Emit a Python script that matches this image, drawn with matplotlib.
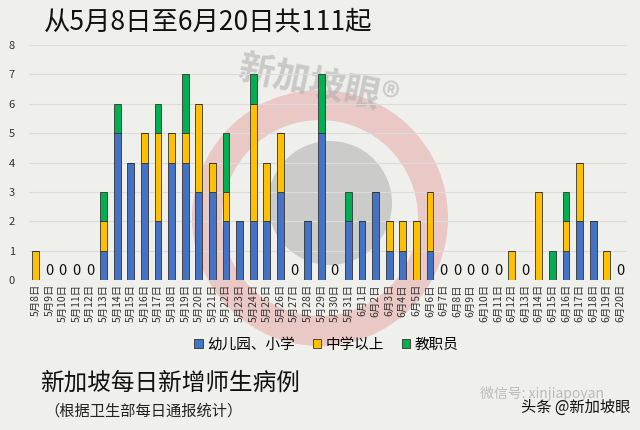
import numpy as np
import matplotlib.pyplot as plt
from matplotlib.patches import Circle, Wedge

plt.rcParams['font.family'] = ['Noto Sans CJK SC', 'DejaVu Sans']

dates = ['5月%d日' % d for d in range(8, 32)] + ['6月%d日' % d for d in range(1, 21)]
# 幼儿园、小学
kinder = [0, 0, 0, 0, 0, 1, 5, 4, 4, 2, 4, 4, 3, 3, 2, 2, 2, 2, 3, 0, 2, 5, 0, 2,
          2, 3, 1, 1, 0, 1, 0, 0, 0, 0, 0, 0, 0, 0, 0, 1, 2, 2, 0, 0]
# 中学以上
secondary = [1, 0, 0, 0, 0, 1, 0, 0, 1, 3, 1, 1, 3, 1, 1, 0, 4, 2, 2, 0, 0, 0, 0, 0,
             0, 0, 1, 1, 2, 2, 0, 0, 0, 0, 0, 1, 0, 3, 0, 1, 2, 0, 1, 0]
# 教职员
staff = [0, 0, 0, 0, 0, 1, 1, 0, 0, 1, 0, 2, 0, 0, 2, 0, 1, 0, 0, 0, 0, 2, 0, 1,
         0, 0, 0, 0, 0, 0, 0, 0, 0, 0, 0, 0, 0, 0, 1, 1, 0, 0, 0, 0]

series_names = ['幼儿园、小学', '中学以上', '教职员']
colors = ['#4472C4', '#FFC000', '#00B050']

bg = '#efefec'
fig = plt.figure(figsize=(6.4, 4.3), dpi=100, facecolor=bg)

# watermark (background decoration)
deco = fig.add_axes([0, 0, 1, 1], zorder=0)
deco.set_xlim(0, 640)
deco.set_ylim(430, 0)
deco.axis('off')
deco.add_patch(Wedge((320, 218), 128, 0, 360, width=30, color='#e07070', alpha=0.3, lw=0))
deco.add_patch(Circle((330, 203), 62, color='#888888', alpha=0.35, lw=0))
deco.text(318, 85, '新加坡眼®', fontsize=26, color='#b0b0b0', alpha=0.6,
          ha='center', va='center', rotation=-12, fontweight='bold')

ax = fig.add_axes([0.045, 0.349, 0.935, 0.546], zorder=1)
ax.patch.set_alpha(0)

x = np.arange(len(dates))
kinder = np.array(kinder)
secondary = np.array(secondary)
staff = np.array(staff)
bottom = np.zeros(len(dates))
for vals, c, name in zip([kinder, secondary, staff], colors, series_names):
    ax.bar(x, vals, 0.5, bottom=bottom, color=c, edgecolor='#333333', linewidth=0.6,
           label=name, zorder=3)
    bottom = bottom + vals

total = kinder + secondary + staff
for i, t in enumerate(total):
    if t == 0:
        ax.text(i, 0.05, '0', ha='center', va='bottom', fontsize=10.5, color='#111111')

ax.set_xlim(-0.5, len(dates) - 0.5)
ax.set_ylim(0, 8)
ax.set_yticks(range(9))
ax.grid(axis='y', color='#dcdcdc', linewidth=0.8, zorder=0)
for s in ax.spines.values():
    s.set_visible(False)
ax.tick_params(axis='y', length=0, labelsize=8, colors='#333333', pad=10)
ax.set_xticks(x)
ax.set_xticklabels(dates, rotation=90, fontsize=7.5, color='#333333')
ax.tick_params(axis='x', length=0, pad=3)

fig.legend(loc='center', bbox_to_anchor=(0.51, 0.198), ncol=3, frameon=False,
           fontsize=10.5, handlelength=0.6, handleheight=0.6, handletextpad=0.3,
           columnspacing=1.2)

fig.text(0.068, 0.948, '从5月8日至6月20日共111起', fontsize=19, color='#111111',
         ha='left', va='center')
fig.text(0.063, 0.108, '新加坡每日新增师生病例', fontsize=17, color='#111111',
         ha='left', va='center')
fig.text(0.07, 0.045, '（根据卫生部每日通报统计）', fontsize=11, color='#222222',
         ha='left', va='center')
fig.text(0.75, 0.085, '微信号: xinjiapoyan', fontsize=10, color='#bbbbbb',
         ha='left', va='center')
fig.text(0.985, 0.052, '头条 @新加坡眼', fontsize=11, color='#111111',
         ha='right', va='center')

fig.savefig('out.png', dpi=100, facecolor=bg)
